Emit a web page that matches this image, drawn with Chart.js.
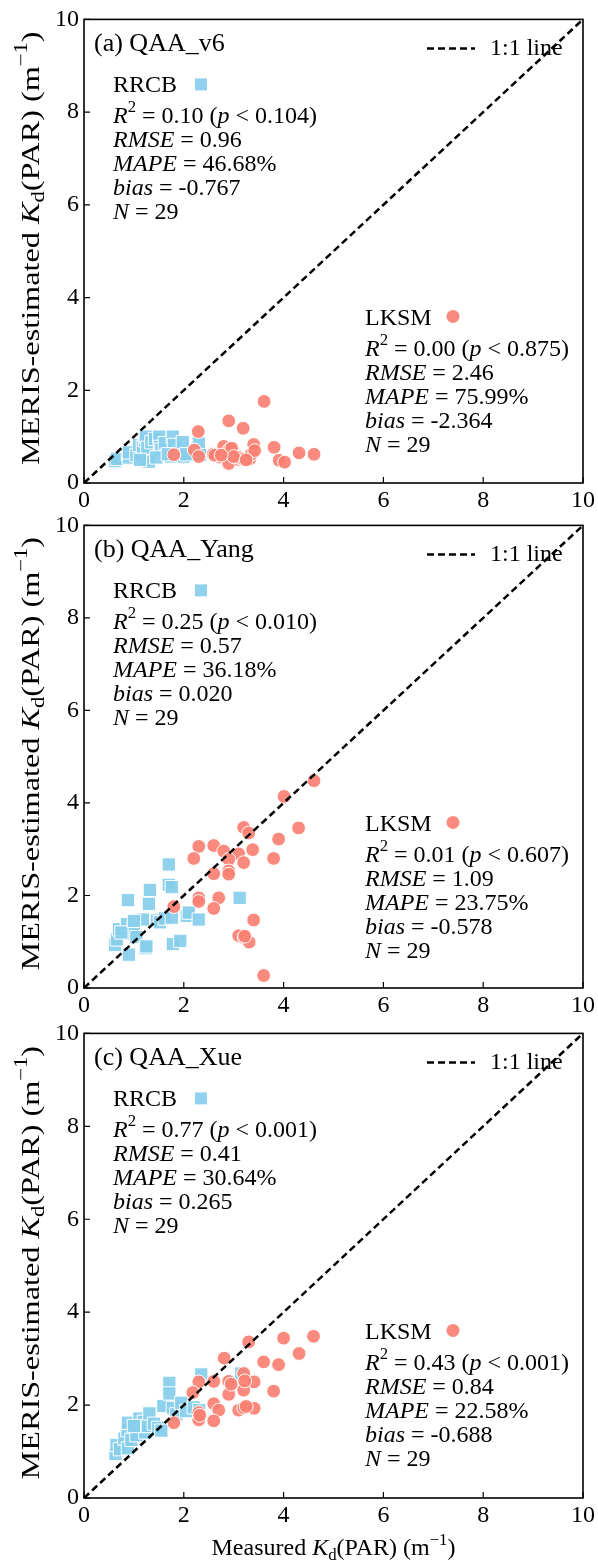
<!DOCTYPE html>
<html>
<head>
<meta charset="utf-8">
<script src="https://cdn.jsdelivr.net/npm/chart.js@4.4.1/dist/chart.umd.min.js"></script>
<style>
html, body { margin: 0; padding: 0; background: #fff; }
#wrap { position: relative; width: 598px; height: 1566px; }
canvas { position: absolute; left: 0; }
</style>
</head>
<body>
<div id="wrap">
    <canvas id="c1" width="598" height="518" style="top:0px"></canvas>
    <canvas id="c2" width="598" height="517" style="top:506px"></canvas>
    <canvas id="c3" width="598" height="552" style="top:1014px"></canvas>
</div>
<script>
// axis ticks
const xTicks = [0, 2, 4, 6, 8, 10];
const yTicks = [0, 2, 4, 6, 8, 10];
const oneToOne = [0, 10];

// (a) QAA_v6
const v6RrcbX = [0.62,0.66,0.88,0.90,0.90,1.05,1.10,1.18,1.22,1.24,1.27,1.30,1.35,1.42,1.51,1.52,1.55,1.62,1.75,1.78,1.80,1.98,2.00,2.05,2.30,2.33,1.45,1.68,1.12];
const v6RrcbY = [0.47,0.52,0.62,0.55,0.66,0.60,0.82,0.78,0.92,1.00,0.76,0.46,0.88,0.95,1.00,0.78,0.72,0.86,0.57,1.00,0.82,0.88,0.57,0.62,0.85,0.60,0.55,0.62,0.50];
const v6LksmX = [1.80,2.21,2.29,2.30,2.59,2.72,2.80,2.90,2.90,2.92,3.09,3.11,3.19,3.20,3.32,3.35,3.40,3.42,3.61,3.81,3.91,4.02,4.31,4.61,2.62,2.96,3.00,3.25,2.75];
const v6LksmY = [0.61,0.71,1.11,0.57,0.62,0.56,0.79,1.34,0.42,0.73,0.51,0.55,1.18,0.52,0.52,0.62,0.83,0.70,1.76,0.77,0.49,0.45,0.65,0.62,0.60,0.75,0.57,0.50,0.60];

// (b) QAA_Yang
const yangRrcbX = [0.62,0.66,0.70,0.86,0.88,0.90,0.96,1.00,1.05,1.18,1.23,1.25,1.30,1.32,1.46,1.52,1.62,1.70,1.70,1.76,1.76,1.78,1.93,2.06,2.10,2.30,3.12,0.75,1.00];
const yangRrcbY = [0.93,1.05,1.27,1.38,1.90,0.72,1.18,1.30,1.10,1.48,0.86,0.90,1.82,2.12,1.46,1.42,1.50,2.67,2.23,2.18,1.52,0.95,1.02,1.56,1.63,1.48,1.95,1.20,1.45];
const yangLksmX = [4.61,4.01,4.30,3.20,3.30,3.90,2.30,2.60,2.80,3.38,2.20,3.10,2.90,3.20,3.80,2.60,2.90,2.90,2.30,2.30,2.70,2.60,1.80,3.40,3.10,3.21,3.31,3.60,3.22];
const yangLksmY = [4.48,4.14,3.46,3.47,3.35,3.22,3.06,3.08,2.96,2.99,2.80,2.90,2.78,2.71,2.80,2.47,2.53,2.46,1.95,1.87,1.95,1.72,1.76,1.47,1.13,1.09,0.99,0.27,1.12];

// (c) QAA_Xue
const xueRrcbX = [0.63,0.65,0.72,0.81,0.87,0.88,0.88,0.95,1.05,1.11,1.20,1.23,1.28,1.31,1.40,1.49,1.55,1.59,1.71,1.71,1.78,1.85,1.95,2.05,2.20,2.31,2.35,3.15,1.00];
const xueRrcbY = [0.95,1.14,1.05,1.28,1.46,1.07,1.62,1.25,1.35,1.71,1.64,1.41,1.55,1.82,1.60,1.51,1.45,1.98,2.48,2.25,1.94,1.80,2.05,1.87,1.95,1.89,2.66,2.68,1.55];
const xueLksmX = [4.60,4.00,3.30,4.31,2.81,3.60,3.90,3.20,2.30,2.60,2.90,3.41,3.20,3.80,2.18,2.90,2.60,2.30,2.70,3.10,3.20,3.41,2.30,2.60,1.80,3.25,2.32,2.95,3.22];
const xueLksmY = [3.48,3.44,3.36,3.11,3.01,2.93,2.87,2.68,2.50,2.51,2.51,2.50,2.32,2.30,2.27,2.23,2.03,1.84,1.89,1.89,1.94,1.93,1.68,1.66,1.62,1.97,1.78,2.45,2.52];

// statistics text
const panelTitles = ["(a) QAA_v6", "(b) QAA_Yang", "(c) QAA_Xue"];
const rrcbR2 = ["0.10", "0.25", "0.77"];
const rrcbP = ["0.104", "0.010", "0.001"];
const rrcbRmse = ["0.96", "0.57", "0.41"];
const rrcbMape = ["46.68%", "36.18%", "30.64%"];
const rrcbBias = ["-0.767", "0.020", "0.265"];
const rrcbN = ["29", "29", "29"];
const lksmR2 = ["0.00", "0.01", "0.43"];
const lksmP = ["0.875", "0.607", "0.001"];
const lksmRmse = ["2.46", "1.09", "0.84"];
const lksmMape = ["75.99%", "23.75%", "22.58%"];
const lksmBias = ["-2.364", "-0.578", "-0.688"];
const lksmN = ["29", "29", "29"];

const FONT = "Liberation Serif";
const BLUE = "rgba(135,206,235,0.92)";
const RED = "rgba(250,128,114,0.92)";

function pts(xs, ys) {
    return xs.map((x, i) => ({ x: x, y: ys[i] }));
}

// draw text made of pieces (italic, sub, sup)
function drawRich(ctx, parts, x, y, size) {
    let cx = x;
    parts.forEach(p => {
        let fs = p.s ? size * 0.7 : size;
        ctx.font = (p.i ? "italic " : "") + fs + "px '" + FONT + "'";
        let dy = p.s === "sup" ? -size * 0.36 : (p.s === "sub" ? size * 0.28 : 0);
        ctx.fillText(p.t, cx, y + dy);
        cx += ctx.measureText(p.t).width;
    });
    return cx - x;
}

function richWidth(ctx, parts, size) {
    let w = 0;
    parts.forEach(p => {
        let fs = p.s ? size * 0.7 : size;
        ctx.font = (p.i ? "italic " : "") + fs + "px '" + FONT + "'";
        w += ctx.measureText(p.t).width;
    });
    return w;
}

function statLines(name, r2, p, rmse, mape, bias, n) {
    return [
        [{ t: name }],
        [{ t: "R", i: 1 }, { t: "2", s: "sup" }, { t: " = " + r2 + " (" }, { t: "p", i: 1 }, { t: " < " + p + ")" }],
        [{ t: "RMSE", i: 1 }, { t: " = " + rmse }],
        [{ t: "MAPE", i: 1 }, { t: " = " + mape }],
        [{ t: "bias", i: 1 }, { t: " = " + bias }],
        [{ t: "N", i: 1 }, { t: " = " + n }]
    ];
}

const lineOffsets = [0, 31, 55, 79, 103, 127];

function makePanel(id, k, rrcbX, rrcbY, lksmX, lksmY, xAxisHeight, showXTitle) {
    const decor = {
        id: "decor" + k,
        afterDatasetsDraw(chart) {
            const ctx = chart.ctx;
            const a = chart.chartArea;
            const xs = chart.scales.x, ys = chart.scales.y;
            ctx.save();
            ctx.strokeStyle = "#000";
            ctx.fillStyle = "#000";

            // inward ticks
            ctx.lineWidth = 1.2;
            ctx.beginPath();
            xs.ticks.forEach(t => {
                let px = xs.getPixelForValue(t.value);
                ctx.moveTo(px, a.bottom);
                ctx.lineTo(px, a.bottom - 6);
            });
            ys.ticks.forEach(t => {
                let py = ys.getPixelForValue(t.value);
                ctx.moveTo(a.left, py);
                ctx.lineTo(a.left + 6, py);
            });
            ctx.stroke();

            // frame
            ctx.lineWidth = 1.6;
            ctx.strokeRect(a.left, a.top, a.right - a.left, a.bottom - a.top);

            ctx.textBaseline = "middle";
            ctx.textAlign = "left";

            // panel title
            ctx.font = "26px '" + FONT + "'";
            ctx.fillText(panelTitles[k], a.left + 10, a.top + 25);

            // 1:1 legend
            ctx.lineWidth = 2.5;
            ctx.setLineDash([7, 4]);
            ctx.beginPath();
            ctx.moveTo(a.left + 343, a.top + 29);
            ctx.lineTo(a.left + 391, a.top + 29);
            ctx.stroke();
            ctx.setLineDash([]);
            ctx.font = "24px '" + FONT + "'";
            ctx.fillText("1:1 line", a.left + 406, a.top + 29);

            // RRCB block
            let rl = statLines("RRCB", rrcbR2[k], rrcbP[k], rrcbRmse[k], rrcbMape[k], rrcbBias[k], rrcbN[k]);
            rl.forEach((parts, j) => drawRich(ctx, parts, a.left + 29, a.top + 66 + lineOffsets[j], 24));
            ctx.fillStyle = BLUE;
            ctx.fillRect(a.left + 111, a.top + 59, 12, 12);

            // LKSM block
            ctx.fillStyle = "#000";
            let ll = statLines("LKSM", lksmR2[k], lksmP[k], lksmRmse[k], lksmMape[k], lksmBias[k], lksmN[k]);
            ll.forEach((parts, j) => drawRich(ctx, parts, a.left + 281, a.top + 299 + lineOffsets[j], 24));
            ctx.fillStyle = RED;
            ctx.beginPath();
            ctx.arc(a.left + 369, a.top + 297, 6.5, 0, Math.PI * 2);
            ctx.fill();

            // y axis title (stretched along its length like the original)
            ctx.fillStyle = "#000";
            const yt = [{ t: "MERIS-estimated " }, { t: "K", i: 1 }, { t: "d", s: "sub" }, { t: "(PAR) (m" }, { t: "\u22121", s: "sup" }, { t: ")" }];
            let w = richWidth(ctx, yt, 26);
            ctx.save();
            ctx.translate(32, (a.top + a.bottom) / 2 - 3);
            ctx.rotate(-Math.PI / 2);
            ctx.scale(1.24, 1);
            drawRich(ctx, yt, -w / 2, 0, 26);
            ctx.restore();

            // x axis title
            if (showXTitle) {
                const xt = [{ t: "Measured " }, { t: "K", i: 1 }, { t: "d", s: "sub" }, { t: "(PAR) (m" }, { t: "\u22121", s: "sup" }, { t: ")" }];
                let wx = richWidth(ctx, xt, 24);
                drawRich(ctx, xt, (a.left + a.right) / 2 - wx / 2, a.bottom + 51, 24);
            }
            ctx.restore();
        }
    };

    return new Chart(document.getElementById(id), {
        type: "scatter",
        data: {
            datasets: [
                {
                    type: "scatter",
                    data: pts(oneToOne, oneToOne),
                    showLine: true,
                    borderColor: "#000",
                    borderWidth: 2.5,
                    borderDash: [7, 4],
                    pointRadius: 0,
                    order: 0
                },
                {
                    data: pts(lksmX, lksmY),
                    pointStyle: "circle",
                    pointRadius: 6.9,
                    backgroundColor: RED,
                    borderColor: "#fff",
                    borderWidth: 1,
                    order: 1
                },
                {
                    data: pts(rrcbX, rrcbY),
                    pointStyle: "rect",
                    pointRadius: 9.4,
                    backgroundColor: BLUE,
                    borderColor: "#fff",
                    borderWidth: 1,
                    order: 2
                }
            ]
        },
        options: {
            responsive: false,
            animation: false,
            events: [],
            layout: { padding: { top: 18, right: 13, left: 0, bottom: 0 } },
            plugins: { legend: { display: false }, tooltip: { enabled: false } },
            scales: {
                x: {
                    type: "linear",
                    min: 0,
                    max: 10,
                    afterBuildTicks: s => { s.ticks = xTicks.map(v => ({ value: v })); },
                    afterFit: s => { s.height = xAxisHeight; },
                    grid: { display: false, drawTicks: false },
                    border: { display: false },
                    ticks: { font: { family: FONT, size: 24 }, color: "#000", padding: 3, maxRotation: 0 }
                },
                y: {
                    type: "linear",
                    min: 0,
                    max: 10,
                    afterBuildTicks: s => { s.ticks = yTicks.map(v => ({ value: v })); },
                    afterFit: s => { s.width = 84; },
                    grid: { display: false, drawTicks: false },
                    border: { display: false },
                    ticks: { font: { family: FONT, size: 24 }, color: "#000", padding: 5 }
                }
            }
        },
        plugins: [decor]
    });
}

makePanel("c1", 0, v6RrcbX, v6RrcbY, v6LksmX, v6LksmY, 35, false);
makePanel("c2", 1, yangRrcbX, yangRrcbY, yangLksmX, yangLksmY, 35, false);
makePanel("c3", 2, xueRrcbX, xueRrcbY, xueLksmX, xueLksmY, 68, true);
</script>
</body>
</html>
